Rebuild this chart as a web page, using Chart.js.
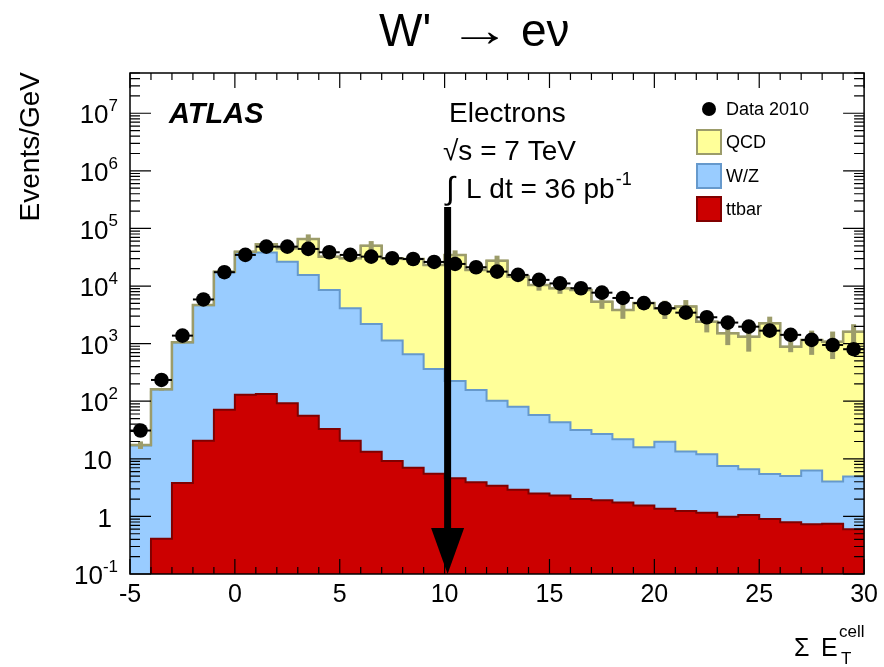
<!DOCTYPE html>
<html>
<head>
<meta charset="utf-8">
<script src="https://cdn.jsdelivr.net/npm/chart.js@4.4.0/dist/chart.umd.min.js"></script>
<style>
  body { margin: 0; background: #fff; }
</style>
</head>
<body>
<canvas id="myChart" width="884" height="667"></canvas>
<script>
// bin centres of the sum E_T^cell histogram (1 GeV bins from -5 to 30)
const binCentres = [-4.5, -3.5, -2.5, -1.5, -0.5, 0.5, 1.5, 2.5, 3.5, 4.5,
    5.5, 6.5, 7.5, 8.5, 9.5, 10.5, 11.5, 12.5, 13.5, 14.5,
    15.5, 16.5, 17.5, 18.5, 19.5, 20.5, 21.5, 22.5, 23.5, 24.5,
    25.5, 26.5, 27.5, 28.5, 29.5];

const data2010 = [31, 234, 1377, 5850, 17400, 34700, 48300, 48300, 44100, 38600,
    34700, 32400, 30400, 29500, 26200, 24200, 21200, 17800, 15600, 12800,
    11100, 9160, 7670, 6210, 5050, 4120, 3450, 2870, 2320, 1970,
    1680, 1420, 1160, 948, 800];

// stack components (drawn ttbar at the bottom, then W/Z, then QCD)
const ttbar = [0.05, 0.41, 3.8, 20.5, 71, 130, 134, 92, 56, 33,
    20.5, 13.3, 9.2, 7.0, 5.5, 4.6, 3.9, 3.4, 2.9, 2.5,
    2.3, 2.0, 1.9, 1.74, 1.54, 1.36, 1.24, 1.16, 0.99, 1.06,
    0.9, 0.79, 0.73, 0.745, 0.6];

const wz = [17, 160, 1045, 4620, 17200, 37900, 37900, 26400, 15540, 8520,
    4100, 2187, 1121, 648, 358, 220, 153, 98.6, 77.6, 55.3,
    40.9, 29.8, 25.2, 20.2, 14.4, 18.5, 12.1, 10.8, 6.54, 5.54,
    4.57, 4.26, 5.51, 3.28, 4.31];

const qcd = [0.4, 1, 8, 60, 500, 1500, 15200, 18800, 50100, 23850,
    26300, 48100, 29270, 28850, 22840, 34480, 18840, 27500, 14520, 10340,
    9117, 8518, 5333, 3828, 5074, 4100, 4377, 2398, 1512, 1313,
    2255, 882, 1154, 1076, 1605];

// relative MC statistical uncertainty on the total
const mcRelErr = [0.15, 0.05, 0.05, 0.05, 0.05, 0.05, 0.05, 0.05, 0.2, 0.05,
    0.05, 0.2, 0.08, 0.08, 0.08, 0.2, 0.08, 0.22, 0.08, 0.2,
    0.2, 0.1, 0.25, 0.3, 0.15, 0.35, 0.3, 0.35, 0.38, 0.45,
    0.3, 0.2, 0.45, 0.5, 0.35];

const yDecades = [-1, 0, 1, 2, 3, 4, 5, 6, 7];

const FONT = '"Liberation Sans", Arial, Helvetica, sans-serif';

// cumulative tops for the stacked histogram
const ttbarTop = ttbar.slice();
const wzTop = wz.map((v, i) => v + ttbar[i]);
const totalTop = qcd.map((v, i) => v + wzTop[i]);

function stepPoints(tops) {
    const pts = binCentres.map((c, i) => ({ x: c - 0.5, y: tops[i] }));
    const last = binCentres.length - 1;
    pts.push({ x: binCentres[last] + 0.5, y: tops[last] });
    return pts;
}

// data horizontal bars + MC error bars, under the data markers
const errorBars = {
    id: 'errorBars',
    beforeDatasetDraw(chart, args) {
        if (args.index !== 0) return;
        const { ctx, scales: { x, y } } = chart;
        ctx.save();
        ctx.beginPath();
        ctx.rect(chart.chartArea.left, chart.chartArea.top, chart.chartArea.width, chart.chartArea.height);
        ctx.clip();
        // MC errors
        ctx.strokeStyle = '#9c9c6a';
        ctx.lineWidth = 5;
        binCentres.forEach((c, i) => {
            const px = x.getPixelForValue(c);
            ctx.beginPath();
            ctx.moveTo(px, y.getPixelForValue(totalTop[i] * (1 + mcRelErr[i])));
            ctx.lineTo(px, y.getPixelForValue(totalTop[i] * (1 - mcRelErr[i])));
            ctx.stroke();
        });
        // data bin-width bars
        ctx.strokeStyle = '#000';
        ctx.lineWidth = 2;
        binCentres.forEach((c, i) => {
            const py = y.getPixelForValue(data2010[i]);
            ctx.beginPath();
            ctx.moveTo(x.getPixelForValue(c - 0.5), py);
            ctx.lineTo(x.getPixelForValue(c + 0.5), py);
            ctx.stroke();
        });
        ctx.restore();
    }
};

// frame, inward ticks, y labels with exponents, texts, legend, arrow
const decorations = {
    id: 'decorations',
    afterDraw(chart) {
        const { ctx, chartArea: a, scales: { x, y } } = chart;
        ctx.save();

        // arrow at the 10 GeV cut
        const ax = x.getPixelForValue(10) + 3;
        ctx.fillStyle = '#000';
        ctx.fillRect(ax - 3.5, 207, 7, 528 - 207);
        ctx.beginPath();
        ctx.moveTo(ax - 16.5, 528);
        ctx.lineTo(ax + 16.5, 528);
        ctx.lineTo(ax, a.bottom);
        ctx.closePath();
        ctx.fill();

        // frame
        ctx.strokeStyle = '#000';
        ctx.lineWidth = 1.5;
        ctx.strokeRect(a.left, a.top, a.width, a.height);

        // x ticks (bottom and top)
        ctx.lineWidth = 1.2;
        for (let v = -5; v <= 30; v++) {
            const px = x.getPixelForValue(v);
            const len = v % 5 === 0 ? 15 : 7;
            ctx.beginPath();
            ctx.moveTo(px, a.bottom);
            ctx.lineTo(px, a.bottom - len);
            ctx.moveTo(px, a.top);
            ctx.lineTo(px, a.top + len);
            ctx.stroke();
        }
        // y ticks (left and right)
        yDecades.forEach(d => {
            for (let m = 1; m <= 9; m++) {
                const v = m * Math.pow(10, d);
                if (v > y.max * 1.0001) continue;
                const py = y.getPixelForValue(v);
                const len = m === 1 ? 21 : 10;
                ctx.beginPath();
                ctx.moveTo(a.left, py);
                ctx.lineTo(a.left + len, py);
                ctx.moveTo(a.right, py);
                ctx.lineTo(a.right - len, py);
                ctx.stroke();
            }
        });

        // y labels
        ctx.fillStyle = '#000';
        ctx.textBaseline = 'middle';
        yDecades.forEach(d => {
            const py = y.getPixelForValue(Math.pow(10, d)) + 3;
            const right = 118;
            if (d === 0 || d === 1) {
                ctx.font = '26px ' + FONT;
                ctx.textAlign = 'right';
                ctx.fillText(d === 0 ? '1' : '10', right - 6, py);
            } else {
                ctx.font = '17px ' + FONT;
                const sup = String(d);
                const sw = ctx.measureText(sup).width;
                ctx.textAlign = 'left';
                ctx.fillText(sup, right - sw, py - 10);
                ctx.font = '26px ' + FONT;
                ctx.textAlign = 'right';
                ctx.fillText('10', right - sw, py);
            }
        });

        // axis titles
        ctx.save();
        ctx.translate(39, 72);
        ctx.rotate(-Math.PI / 2);
        ctx.font = '28px ' + FONT;
        ctx.textAlign = 'right';
        ctx.textBaseline = 'alphabetic';
        ctx.fillText('Events/GeV', 0, 0);
        ctx.restore();

        ctx.textAlign = 'left';
        ctx.textBaseline = 'alphabetic';
        ctx.font = '25px ' + FONT;
        ctx.fillText('\u03A3', 794, 656);
        ctx.fillText('E', 821, 656);
        ctx.font = '17px ' + FONT;
        ctx.fillText('cell', 839, 637);
        ctx.fillText('T', 841, 664);

        // title: W' -> e nu
        ctx.font = '46px ' + FONT;
        ctx.fillText("W'", 379, 46);
        ctx.fillText('e\u03BD', 521, 46);
        ctx.save();
        ctx.translate(449, 46);
        ctx.scale(62 / ctx.measureText('\u2192').width, 1);
        ctx.fillText('\u2192', 0, 0);
        ctx.restore();

        // ATLAS and labels
        ctx.textAlign = 'left';
        ctx.font = 'italic bold 29px ' + FONT;
        ctx.fillText('ATLAS', 169, 123);
        ctx.font = '28px ' + FONT;
        ctx.fillText('Electrons', 449, 122);
        ctx.fillText('\u221As = 7 TeV', 443, 160);
        ctx.font = '32px ' + FONT;
        ctx.fillText('\u222B', 446, 199);
        ctx.font = '28px ' + FONT;
        ctx.fillText('L dt = 36 pb', 466, 198);
        const pbW = ctx.measureText('L dt = 36 pb').width;
        ctx.font = '18px ' + FONT;
        ctx.fillText('-1', 466 + pbW + 1, 185);

        // legend
        ctx.beginPath();
        ctx.arc(709, 109, 7, 0, Math.PI * 2);
        ctx.fill();
        ctx.font = '18px ' + FONT;
        ctx.textBaseline = 'middle';
        ctx.fillText('Data 2010', 726, 110);
        const boxes = [
            ['QCD', '#ffff99', '#9c9c6a', 130],
            ['W/Z', '#99ccff', '#6699cc', 164],
            ['ttbar', '#cc0000', '#800000', 197]
        ];
        boxes.forEach(([label, fill, border, top]) => {
            ctx.fillStyle = fill;
            ctx.fillRect(697, top, 24, 24);
            ctx.strokeStyle = border;
            ctx.lineWidth = 2;
            ctx.strokeRect(697, top, 24, 24);
            ctx.fillStyle = '#000';
            ctx.fillText(label, 726, top + 13);
        });

        ctx.restore();
    }
};

const histDataset = (label, tops, fill, border, width) => ({
    label: label,
    data: stepPoints(tops),
    stepped: true,
    fill: fill ? 'start' : false,
    backgroundColor: fill || 'transparent',
    borderColor: border,
    borderWidth: width,
    pointRadius: 0
});

new Chart(document.getElementById('myChart'), {
    type: 'line',
    data: {
        datasets: [
            {
                label: 'Data 2010',
                data: binCentres.map((c, i) => ({ x: c, y: data2010[i] })),
                showLine: false,
                pointRadius: 7.3,
                pointBackgroundColor: '#000',
                pointBorderWidth: 0
            },
            histDataset('MC total', totalTop, null, '#9c9c6a', 2.5),
            histDataset('ttbar', ttbarTop, '#cc0000', '#800000', 2),
            histDataset('W/Z', wzTop, '#99ccff', '#6699cc', 2),
            histDataset('QCD', totalTop, '#ffff99', '#9c9c6a', 2)
        ]
    },
    options: {
        responsive: false,
        animation: false,
        layout: { padding: { top: 73, right: 16, left: 0, bottom: 0 } },
        plugins: { legend: { display: false }, tooltip: { enabled: false } },
        scales: {
            x: {
                type: 'linear',
                min: -5,
                max: 30,
                grid: { display: false, drawTicks: false },
                border: { display: false },
                ticks: { stepSize: 5, autoSkip: false, maxRotation: 0, padding: 6, color: '#000', font: { family: FONT, size: 25 } },
                afterFit(scale) { scale.height = 93; }
            },
            y: {
                type: 'logarithmic',
                min: 0.1,
                max: 5e7,
                grid: { display: false },
                border: { display: false },
                ticks: { display: false },
                afterFit(scale) { scale.width = 130; }
            }
        }
    },
    plugins: [errorBars, decorations]
});
</script>
</body>
</html>
